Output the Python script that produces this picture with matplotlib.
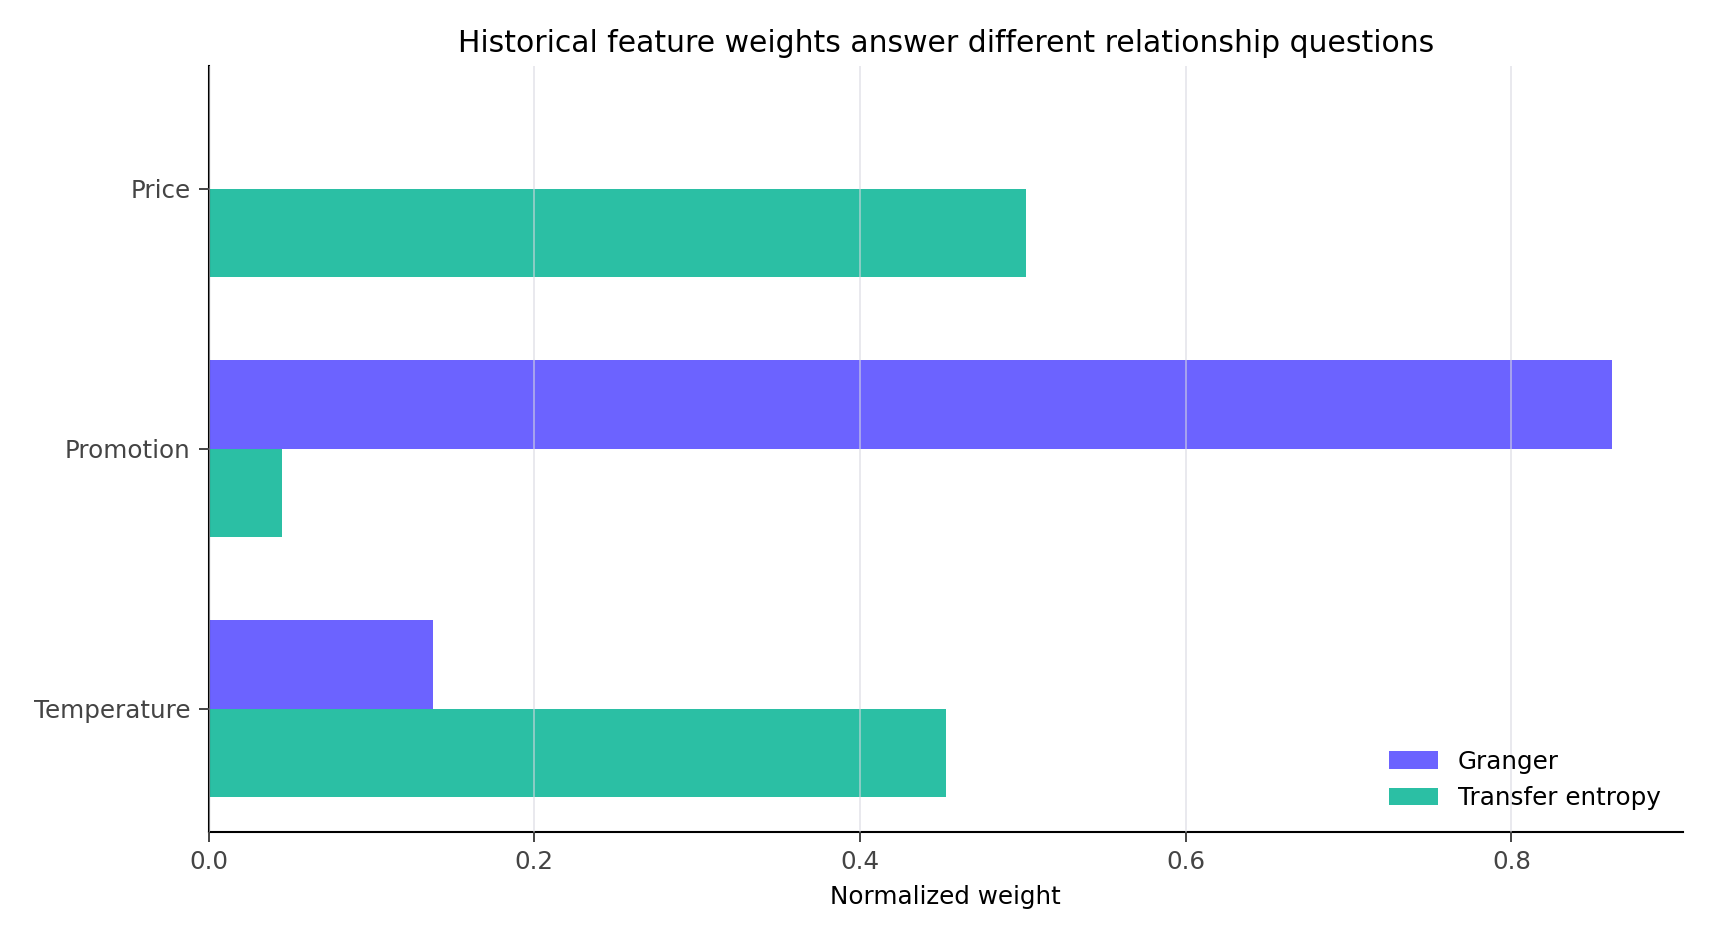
import numpy as np
import matplotlib.pyplot as plt

features = ['Price', 'Promotion', 'Temperature']
granger = [0.0, 0.862, 0.138]
transfer_entropy = [0.502, 0.045, 0.453]

fig, ax = plt.subplots(figsize=(17.1, 9.36), dpi=100)
y = np.arange(len(features))
h = 0.34
ax.barh(y - h / 2, granger, height=h, color='#6C63FF', label='Granger')
ax.barh(y + h / 2, transfer_entropy, height=h, color='#2BBFA4', label='Transfer entropy')

ax.set_yticks(y)
ax.set_yticklabels(features)
ax.invert_yaxis()
ax.set_axisbelow(False)
ax.grid(axis='x', color='#d8d8e0', alpha=0.6, linewidth=1.3)
ax.spines['top'].set_visible(False)
ax.spines['right'].set_visible(False)
for s in ['left', 'bottom']:
    ax.spines[s].set_color('black')
    ax.spines[s].set_linewidth(1.5)
ax.tick_params(colors='#444444', labelsize=17.7, length=7, width=1.4, pad=6)
ax.set_xlabel('Normalized weight', fontsize=17.7, labelpad=8)
ax.set_title('Historical feature weights answer different relationship questions', fontsize=21.5, pad=10)
ax.legend(loc='lower right', frameon=False, fontsize=17.7)

fig.subplots_adjust(left=0.122, right=0.984, top=0.930, bottom=0.111)
fig.savefig('out.png', dpi=100)
